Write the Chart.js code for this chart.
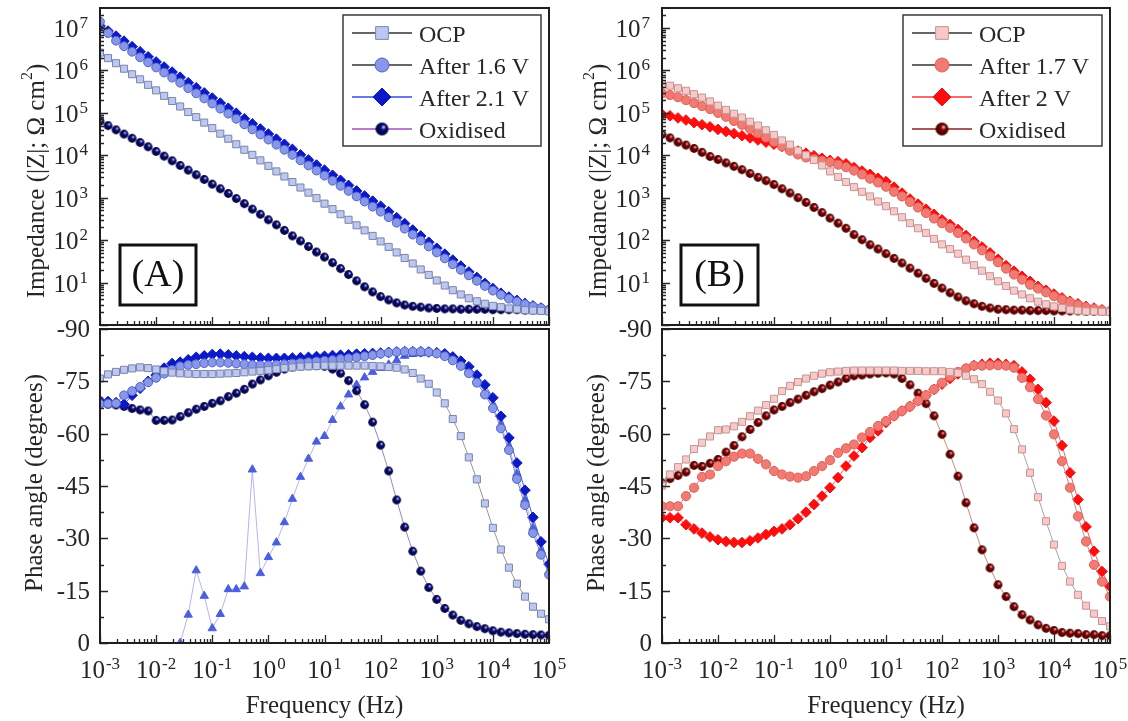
<!DOCTYPE html>
<html lang="en">
<head>
<meta charset="UTF-8">
<title>Bode plots</title>
<script src="https://cdn.jsdelivr.net/npm/chart.js"></script>
<style>
  body { margin: 0; background: #fff; }
  #wrap { position: relative; width: 1128px; height: 721px; }
  #wrap canvas { position: absolute; left: 0; top: 0; }
</style>
</head>
<body>
<div id="wrap">
  <canvas id="phA" width="1128" height="721"></canvas>
  <canvas id="phB" width="1128" height="721"></canvas>
  <canvas id="zA" width="1128" height="721"></canvas>
  <canvas id="zB" width="1128" height="721"></canvas>
</div>
<script>
// frequency sweep (Hz), 7 points per decade
const freq = [
  1e-3, 1.39e-3, 1.93e-3, 2.68e-3, 3.73e-3, 5.18e-3, 7.2e-3,
  1e-2, 1.39e-2, 1.93e-2, 2.68e-2, 3.73e-2, 5.18e-2, 7.2e-2,
  0.1, 0.139, 0.193, 0.268, 0.373, 0.518, 0.72,
  1, 1.39, 1.93, 2.68, 3.73, 5.18, 7.2,
  10, 13.9, 19.3, 26.8, 37.3, 51.8, 72,
  100, 139, 193, 268, 373, 518, 720,
  1e3, 1.39e3, 1.93e3, 2.68e3, 3.73e3, 5.18e3, 7.2e3,
  1e4, 1.39e4, 1.93e4, 2.68e4, 3.73e4, 5.18e4, 7.2e4,
  1e5
];

// log10 |Z| (Ω cm²), panel A
const logZ_A_ocp = [
  6.42, 6.29, 6.17, 6.04, 5.91, 5.79, 5.66,
  5.53, 5.40, 5.28, 5.15, 5.02, 4.90, 4.77,
  4.64, 4.51, 4.39, 4.26, 4.13, 4.01, 3.88,
  3.75, 3.62, 3.50, 3.37, 3.24, 3.12, 2.99,
  2.86, 2.73, 2.61, 2.48, 2.35, 2.23, 2.10,
  1.97, 1.84, 1.71, 1.58, 1.45, 1.31, 1.18,
  1.05, 0.93, 0.82, 0.72, 0.63, 0.56, 0.50,
  0.45, 0.42, 0.39, 0.37, 0.35, 0.34, 0.33,
  0.32
];
const logZ_A_16 = [
  7.15, 6.88, 6.70, 6.57, 6.44, 6.31, 6.19,
  6.07, 5.95, 5.83, 5.71, 5.58, 5.46, 5.34,
  5.22, 5.10, 4.98, 4.86, 4.73, 4.61, 4.49,
  4.37, 4.25, 4.13, 4.01, 3.88, 3.76, 3.64,
  3.52, 3.40, 3.28, 3.16, 3.03, 2.91, 2.79,
  2.67, 2.54, 2.41, 2.27, 2.13, 1.99, 1.85,
  1.71, 1.57, 1.43, 1.30, 1.17, 1.04, 0.92,
  0.81, 0.71, 0.62, 0.55, 0.49, 0.44, 0.40,
  0.36
];
const logZ_A_21 = [
  7.05, 6.93, 6.81, 6.69, 6.56, 6.44, 6.32,
  6.20, 6.08, 5.96, 5.84, 5.71, 5.59, 5.47,
  5.35, 5.23, 5.11, 4.99, 4.86, 4.74, 4.62,
  4.50, 4.38, 4.26, 4.14, 4.01, 3.89, 3.77,
  3.65, 3.53, 3.41, 3.29, 3.16, 3.04, 2.92,
  2.80, 2.67, 2.53, 2.39, 2.24, 2.10, 1.95,
  1.81, 1.67, 1.53, 1.39, 1.25, 1.12, 0.98,
  0.86, 0.75, 0.66, 0.58, 0.51, 0.45, 0.40,
  0.36
];
const logZ_A_ox = [
  4.80, 4.70, 4.60, 4.50, 4.40, 4.30, 4.20,
  4.09, 3.98, 3.87, 3.76, 3.65, 3.54, 3.43,
  3.32, 3.21, 3.10, 2.98, 2.86, 2.73, 2.61,
  2.48, 2.36, 2.23, 2.10, 1.98, 1.85, 1.72,
  1.60, 1.47, 1.33, 1.19, 1.04, 0.90, 0.78,
  0.67, 0.59, 0.52, 0.47, 0.44, 0.42, 0.40,
  0.39, 0.38, 0.38, 0.37, 0.37, 0.37, 0.37,
  0.36, 0.36, 0.36, 0.36, 0.35, 0.35, 0.35,
  0.35
];

// log10 |Z| (Ω cm²), panel B
const logZ_B_ocp = [
  5.68, 5.64, 5.58, 5.52, 5.44, 5.36, 5.27,
  5.17, 5.07, 4.98, 4.89, 4.79, 4.70, 4.59,
  4.48, 4.35, 4.25, 4.11, 4.00, 3.89, 3.76,
  3.62, 3.49, 3.37, 3.25, 3.14, 3.03, 2.91,
  2.80, 2.68, 2.54, 2.40, 2.28, 2.17, 2.03,
  1.90, 1.79, 1.68, 1.54, 1.41, 1.28, 1.15,
  1.03, 0.92, 0.81, 0.72, 0.63, 0.55, 0.49,
  0.44, 0.40, 0.36, 0.34, 0.32, 0.32, 0.31,
  0.31
];
const logZ_B_17 = [
  5.46, 5.42, 5.37, 5.30, 5.23, 5.16, 5.09,
  5.00, 4.91, 4.81, 4.72, 4.62, 4.52, 4.42,
  4.32, 4.21, 4.11, 4.02, 3.95, 3.91, 3.87,
  3.84, 3.78, 3.72, 3.64, 3.55, 3.45, 3.36,
  3.26, 3.14, 3.03, 2.90, 2.77, 2.64, 2.51,
  2.40, 2.29, 2.17, 2.04, 1.90, 1.76, 1.62,
  1.48, 1.33, 1.19, 1.07, 0.95, 0.86, 0.77,
  0.68, 0.60, 0.54, 0.47, 0.42, 0.38, 0.35,
  0.32
];
const logZ_B_2 = [
  4.97, 4.93, 4.88, 4.83, 4.77, 4.72, 4.67,
  4.61, 4.56, 4.51, 4.46, 4.41, 4.36, 4.31,
  4.26, 4.21, 4.16, 4.10, 4.05, 3.99, 3.93,
  3.88, 3.85, 3.80, 3.71, 3.63, 3.55, 3.46,
  3.38, 3.25, 3.11, 2.97, 2.85, 2.73, 2.61,
  2.48, 2.37, 2.25, 2.11, 1.97, 1.84, 1.70,
  1.55, 1.40, 1.27, 1.15, 1.03, 0.91, 0.82,
  0.73, 0.64, 0.56, 0.50, 0.44, 0.40, 0.36,
  0.33
];
const logZ_B_ox = [
  4.49, 4.41, 4.31, 4.24, 4.16, 4.07, 3.97,
  3.90, 3.82, 3.74, 3.66, 3.57, 3.48, 3.40,
  3.31, 3.21, 3.11, 3.00, 2.89, 2.77, 2.65,
  2.52, 2.40, 2.28, 2.13, 2.01, 1.89, 1.79,
  1.68, 1.57, 1.46, 1.34, 1.22, 1.10, 0.98,
  0.87, 0.76, 0.66, 0.57, 0.50, 0.44, 0.40,
  0.37, 0.36, 0.35, 0.35, 0.34, 0.34, 0.34,
  0.33, 0.33, 0.33, 0.33, 0.32, 0.32, 0.32,
  0.32
];

// phase angle (degrees), panel A
const phase_A_ocp = [
  -75.8, -77.0, -77.7, -78.3, -78.7, -79.0, -78.8,
  -78.4, -77.9, -77.5, -77.3, -77.2, -77.1, -77.1,
  -77.1, -77.2, -77.3, -77.4, -77.6, -77.8, -78.0,
  -78.2, -78.5, -78.8, -79.0, -79.2, -79.3, -79.4,
  -79.5, -79.5, -79.5, -79.5, -79.5, -79.5, -79.4,
  -79.3, -79.1, -78.9, -78.4, -77.4, -75.8, -74.3,
  -71.8, -68.7, -64.2, -59.3, -53.2, -46.9, -40.0,
  -33.0, -26.8, -21.6, -17.0, -13.3, -10.4, -8.4,
  -6.8
];
const phase_A_16 = [
  -68.5, -68.6, -68.7, -71.0, -72.2, -73.4, -74.7,
  -76.0, -77.2, -78.3, -79.3, -79.7, -79.9, -80.2,
  -80.4, -80.4, -80.3, -80.1, -79.9, -79.7, -79.6,
  -79.6, -79.7, -79.9, -80.1, -80.3, -80.5, -80.7,
  -80.9, -81.1, -81.4, -81.6, -81.9, -82.2, -82.5,
  -82.9, -83.2, -83.4, -83.5, -83.5, -83.5, -83.4,
  -83.0, -82.2, -81.0, -79.4, -77.3, -74.6, -71.2,
  -67.3, -61.5, -55.3, -47.0, -39.5, -31.5, -25.3,
  -19.6
];
const phase_A_21 = [
  -69.0, -69.2, -68.9, -68.4, -71.0, -73.0, -75.0,
  -76.8, -78.8, -80.1, -80.5, -81.2, -81.9, -82.3,
  -82.7, -82.8, -82.6, -82.3, -82.1, -81.9, -81.7,
  -81.6, -81.6, -81.6, -81.7, -81.8, -81.9, -82.1,
  -82.2, -82.4, -82.5, -82.6, -82.8, -82.9, -83.0,
  -83.1, -83.3, -83.4, -83.5, -83.5, -83.5, -83.4,
  -83.2, -82.9, -82.0, -80.8, -79.2, -76.8, -74.0,
  -70.3, -65.0, -58.8, -51.6, -43.8, -36.0, -29.0,
  -22.6
];
const phase_A_ox = [
  -69.4, -68.4, -68.2, -67.8, -67.2, -66.8, -66.5,
  -63.8, -63.8, -63.9, -64.9, -66.0, -67.0, -67.8,
  -68.7, -69.4, -70.6, -71.6, -72.7, -74.2, -75.4,
  -76.6, -77.6, -78.5, -79.1, -79.4, -79.5, -79.5,
  -79.3, -78.5, -77.3, -75.2, -72.3, -68.3, -63.3,
  -56.7, -49.3, -41.0, -33.2, -26.3, -20.6, -15.9,
  -12.5, -9.9, -8.0, -6.5, -5.5, -4.7, -4.1,
  -3.5, -3.1, -2.9, -2.7, -2.5, -2.4, -2.3,
  -2.2
];
// extra run without a legend entry (triangles)
const phase_A_tri = [
  null, null, null, null, null, null, null,
  null, null, null, 0, -8.1, -20.8, -13.5,
  -4.2, -8.3, -15.4, -15.4, -16.2, -49.7, -20.0,
  -24.6, -28.8, -34.6, -41.3, -47.6, -52.8, -57.7,
  -59.3, -63.9, -67.8, -71.2, -74.0, -76.1, -77.7,
  -78.8, -79.8, -81.0, -82.3, -82.8, -83.0, -83.1,
  -83.0, -82.5, -81.5, -80.2, -78.5, -75.5, -71.8,
  -68.0, -62.5, -56.3, -48.5, -41.0, -33.0, -26.5,
  -20.5
];

// phase angle (degrees), panel B
const phase_B_ocp = [
  -45.1, -48.3, -50.4, -52.6, -55.6, -57.4, -59.2,
  -61.0, -61.2, -62.1, -63.4, -65.0, -66.6, -68.2,
  -70.0, -72.2, -73.7, -74.8, -75.8, -76.6, -77.2,
  -77.6, -77.8, -78.0, -78.1, -78.1, -78.1, -78.1,
  -78.1, -78.1, -78.0, -78.0, -78.0, -77.9, -77.9,
  -77.9, -77.7, -77.4, -76.6, -75.6, -74.2, -72.0,
  -69.5, -65.8, -61.3, -55.5, -48.8, -41.8, -34.9,
  -28.2, -22.1, -17.6, -13.8, -10.7, -8.4, -6.3,
  -4.8
];
const phase_B_17 = [
  -39.2, -39.2, -39.2, -42.1, -44.5, -47.6, -48.3,
  -50.7, -52.1, -53.4, -54.3, -54.3, -52.8, -51.2,
  -49.3, -48.3, -47.7, -47.4, -47.8, -49.3, -50.7,
  -52.4, -54.5, -55.8, -56.9, -58.9, -60.5, -62.2,
  -63.6, -65.1, -66.5, -67.8, -69.4, -71.0, -72.7,
  -74.6, -76.4, -77.7, -78.7, -79.5, -79.5, -79.6,
  -79.6, -79.5, -78.9, -76.0, -73.3, -69.9, -65.2,
  -59.8, -52.1, -44.5, -36.3, -29.1, -22.4, -17.6,
  -13.3
];
const phase_B_2 = [
  -35.9, -35.9, -35.9, -33.9, -32.7, -31.5, -30.4,
  -29.6, -29.1, -28.8, -28.8, -29.3, -30.1, -31.1,
  -32.0, -32.7, -33.9, -35.6, -37.5, -39.7, -42.1,
  -44.5, -47.4, -50.7, -53.6, -56.0, -58.9, -60.8,
  -63.2, -65.1, -66.5, -67.8, -69.4, -71.0, -72.7,
  -74.2, -75.8, -77.1, -78.5, -79.5, -79.9, -80.2,
  -80.2, -79.9, -79.5, -77.7, -75.6, -72.7, -68.9,
  -63.6, -56.6, -48.8, -41.1, -33.3, -26.3, -20.5,
  -16.2
];
const phase_B_ox = [
  -45.9, -47.1, -48.0, -49.0, -50.9, -50.6, -51.5,
  -52.6, -54.7, -56.6, -59.1, -61.2, -63.2, -65.1,
  -66.8, -67.8, -68.9, -69.9, -71.0, -72.0, -72.9,
  -73.9, -74.8, -75.8, -76.6, -76.8, -77.1, -77.3,
  -77.4, -77.1, -75.8, -74.0, -71.6, -68.6, -65.1,
  -59.8, -54.1, -47.8, -40.2, -33.0, -26.7, -21.5,
  -16.7, -13.3, -10.4, -8.1, -6.6, -5.2, -4.2,
  -3.6, -3.0, -2.8, -2.7, -2.4, -2.4, -2.1,
  -2.1
];

// axis ticks and legend text
const freqExps = [-3, -2, -1, 0, 1, 2, 3, 4, 5];
const zExps = [1, 2, 3, 4, 5, 6, 7];
const phaseTicks = [0, -15, -30, -45, -60, -75, -90];
const labelsA = ['OCP', 'After 1.6 V', 'After 2.1 V', 'Oxidised'];
const labelsB = ['OCP', 'After 1.7 V', 'After 2 V', 'Oxidised'];

const SERIF = '"Liberation Serif", "Times New Roman", serif';
const INK = '#262626';

// shaded ball marker
function sphere(core, rim, glint, r) {
  const c = document.createElement('canvas');
  const s = Math.ceil(2 * r + 2);
  c.width = c.height = s;
  const g = c.getContext('2d');
  const m = s / 2;
  const grad = g.createRadialGradient(m + r * 0.3, m - r * 0.35, r * 0.05, m, m, r);
  grad.addColorStop(0, glint);
  grad.addColorStop(0.35, core);
  grad.addColorStop(1, rim);
  g.fillStyle = grad;
  g.beginPath();
  g.arc(m, m, r, 0, Math.PI * 2);
  g.fill();
  return c;
}

const stylesA = [
  { style: 'rect', r: 5, fill: '#bdc7f3', edge: '#7b84a8', line: '#8d8d8d', key: '#333' },
  { style: 'circle', r: 4.4, fill: '#8797ea', edge: '#5363c6', line: '#6a72b2', key: '#333' },
  { style: 'rectRot', r: 5.3, fill: '#0b19c9', edge: '#0b19c9', line: '#3446e0', key: '#3a48e0' },
  { style: 'ball', r: 4.4, ball: ['#0a0a78', '#020236', '#d8dcff'], line: '#8a7bb8', key: '#a050b8' }
];
const stylesB = [
  { style: 'rect', r: 5, fill: '#fbc7c7', edge: '#bf9898', line: '#9b9b9b', key: '#333' },
  { style: 'circle', r: 4.6, fill: '#f37a72', edge: '#dc625a', line: '#b88080', key: '#333' },
  { style: 'rectRot', r: 5.3, fill: '#ff0c0c', edge: '#ff0c0c', line: '#f25050', key: '#f03a3a' },
  { style: 'ball', r: 4.4, ball: ['#860000', '#3a0000', '#ffc8c8'], line: '#c87878', key: '#8c2020' }
];
const triStyle = { style: 'triangle', r: 4.8, fill: '#4a5ee2', edge: '#4a5ee2', line: '#a6aef2' };

function pointStyleOf(st, r) {
  return st.style === 'ball' ? sphere(st.ball[0], st.ball[1], st.ball[2], r) : st.style;
}

function makeSet(label, ys, st, toValue) {
  return {
    label,
    data: freq.map((f, i) => ({ x: f, y: ys[i] === null ? null : toValue(ys[i]) })),
    borderColor: st.line,
    borderWidth: 0.9,
    pointStyle: pointStyleOf(st, st.r),
    pointRadius: st.r,
    pointBackgroundColor: st.fill || st.line,
    pointBorderColor: st.edge || st.line,
    pointBorderWidth: 1,
    tension: 0,
    fill: false,
    spanGaps: false
  };
}

const pow10 = v => Math.pow(10, v);
const same = v => v;

// text helpers
function stretchText(ctx, text, x, y, font) {
  ctx.font = font;
  ctx.fillText(text, x, y);
}

function drawPow(ctx, exp, x, y, align) {
  const main = '25px ' + SERIF, sup = '17px ' + SERIF;
  ctx.font = main;
  const wb = ctx.measureText('10').width;
  ctx.font = sup;
  const ws = ctx.measureText(String(exp)).width;
  const total = wb + 1 + ws;
  const x0 = align === 'right' ? x - total : x - total / 2;
  ctx.textAlign = 'left';
  ctx.textBaseline = 'alphabetic';
  ctx.fillStyle = INK;
  stretchText(ctx, '10', x0, y, main);
  stretchText(ctx, String(exp), x0 + wb + 1, y - 9, sup);
}

// parts: [text, isSuperscript]
function drawRich(ctx, parts, cx, cy, rotate) {
  const main = '25px ' + SERIF, sup = '16px ' + SERIF;
  let total = 0;
  const widths = parts.map(([t, s]) => {
    ctx.font = s ? sup : main;
    const w = ctx.measureText(t).width;
    total += w;
    return w;
  });
  ctx.save();
  ctx.translate(cx, cy);
  if (rotate) ctx.rotate(-Math.PI / 2);
  ctx.fillStyle = INK;
  ctx.textAlign = 'left';
  ctx.textBaseline = 'middle';
  let x = -total / 2;
  parts.forEach(([t, s], i) => {
    ctx.font = s ? sup : main;
    ctx.fillText(t, x, s ? -9 : 0);
    x += widths[i];
  });
  ctx.restore();
}

function drawKeyMarker(ctx, st, x, y, r) {
  if (st.style === 'ball') {
    const img = sphere(st.ball[0], st.ball[1], st.ball[2], r);
    ctx.drawImage(img, x - img.width / 2, y - img.height / 2);
    return;
  }
  ctx.fillStyle = st.fill;
  ctx.strokeStyle = st.edge;
  ctx.lineWidth = 1;
  ctx.beginPath();
  if (st.style === 'rect') {
    const h = r * Math.SQRT1_2;
    ctx.rect(x - h, y - h, 2 * h, 2 * h);
  } else if (st.style === 'rectRot') {
    ctx.moveTo(x, y - r); ctx.lineTo(x + r, y); ctx.lineTo(x, y + r); ctx.lineTo(x - r, y);
    ctx.closePath();
  } else {
    ctx.arc(x, y, r, 0, Math.PI * 2);
  }
  ctx.fill();
  ctx.stroke();
}

// frame, inward ticks, labels, titles and key for one panel
function panelDecor(cfg) {
  return {
    id: 'decor',
    afterDraw(chart) {
      const { ctx, chartArea: a, scales: { x, y } } = chart;
      ctx.save();

      // ticks
      ctx.strokeStyle = INK;
      ctx.lineWidth = 1.3;
      ctx.beginPath();
      freqExps.forEach((e, k) => {
        for (let m = 1; m <= 9; m++) {
          if (m > 1 && k === freqExps.length - 1) break;
          const px = Math.round(x.getPixelForValue(m * Math.pow(10, e))) + 0.5;
          const len = m === 1 ? 8 : 4;
          ctx.moveTo(px, a.bottom);
          ctx.lineTo(px, a.bottom - len);
        }
      });
      if (cfg.kind === 'z') {
        for (let e = 0; e <= 7; e++) {
          for (let m = 1; m <= 9; m++) {
            const v = m * Math.pow(10, e);
            if (v > y.max) break;
            const py = Math.round(y.getPixelForValue(v)) + 0.5;
            ctx.moveTo(a.left, py);
            ctx.lineTo(a.left + (m === 1 ? 8 : 4), py);
          }
        }
      } else {
        for (let v = 0; v >= -90; v -= 7.5) {
          const py = Math.round(y.getPixelForValue(v)) + 0.5;
          ctx.moveTo(a.left, py);
          ctx.lineTo(a.left + (v % 15 === 0 ? 8 : 4), py);
        }
      }
      ctx.stroke();

      // frame
      ctx.lineWidth = 2;
      ctx.strokeStyle = '#1e1e1e';
      ctx.strokeRect(a.left, a.top, a.right - a.left, a.bottom - a.top);

      // tick labels and titles
      ctx.fillStyle = INK;
      if (cfg.kind === 'z') {
        zExps.forEach(e => drawPow(ctx, e, a.left - 12, y.getPixelForValue(Math.pow(10, e)) + 9, 'right'));
        drawRich(ctx, [['Impedance (|Z|; \u03A9 cm', false], ['2', true], [')', false]], a.left - 63, 181, true);

        // key box
        const b = cfg.keyBox;
        ctx.fillStyle = '#fff';
        ctx.fillRect(b.x, b.y, b.w, b.h);
        ctx.strokeStyle = '#3a3a3a';
        ctx.lineWidth = 1.5;
        ctx.strokeRect(b.x, b.y, b.w, b.h);
        chart.data.datasets.slice(0, 4).forEach((ds, i) => {
          const st = cfg.styles[i];
          const yy = b.y + 18 + i * 32;
          ctx.strokeStyle = st.key;
          ctx.lineWidth = 1.3;
          ctx.beginPath();
          ctx.moveTo(b.x + 9, yy);
          ctx.lineTo(b.x + 69, yy);
          ctx.stroke();
          const kr = st.style === 'rect' ? 9 : st.style === 'rectRot' ? 9 : st.style === 'ball' ? 6.5 : 7;
          drawKeyMarker(ctx, st, b.x + 39, yy, kr);
          ctx.fillStyle = INK;
          ctx.textAlign = 'left';
          ctx.textBaseline = 'alphabetic';
          ctx.font = '24px ' + SERIF;
          ctx.fillText(ds.label, b.x + 76, yy + 9);
        });

        // panel tag
        const t = cfg.tagBox;
        ctx.strokeStyle = '#111';
        ctx.lineWidth = 3;
        ctx.strokeRect(t.x, t.y, t.w, t.h);
        ctx.fillStyle = '#111';
        ctx.textAlign = 'center';
        ctx.textBaseline = 'middle';
        ctx.font = '38px ' + SERIF;
        ctx.fillText(cfg.tag, t.x + t.w / 2, t.y + t.h / 2 + 1);
      } else {
        ctx.textAlign = 'right';
        ctx.textBaseline = 'alphabetic';
        ctx.font = '25px ' + SERIF;
        phaseTicks.forEach(v => {
          ctx.fillText(String(v), a.left - 10, y.getPixelForValue(v) + 8);
        });
        freqExps.forEach(e => drawPow(ctx, e, x.getPixelForValue(Math.pow(10, e)), a.bottom + 35, 'center'));
        drawRich(ctx, [['Phase angle (degrees)', false]], a.left - 65, 483, true);
        drawRich(ctx, [['Frequency (Hz)', false]], (a.left + a.right) / 2, 706, false);
      }
      ctx.restore();
    }
  };
}

function makePanel(canvasId, cfg, datasets) {
  const isZ = cfg.kind === 'z';
  return new Chart(document.getElementById(canvasId), {
    type: 'line',
    data: { datasets },
    options: {
      responsive: false,
      animation: false,
      events: [],
      layout: {
        padding: {
          left: cfg.left,
          right: 1128 - cfg.right,
          top: isZ ? 8 : 329,
          bottom: isZ ? 721 - 325 : 721 - 643
        }
      },
      scales: {
        x: { type: 'logarithmic', min: 1e-3, max: 1e5, display: false },
        y: isZ
          ? { type: 'logarithmic', min: 1, max: 2.96e7, display: false }
          : { type: 'linear', min: -90, max: 0, reverse: true, display: false }
      },
      plugins: { legend: { display: false }, tooltip: { enabled: false } }
    },
    plugins: [panelDecor(cfg)]
  });
}

const cfgA = { left: 100, right: 549, styles: stylesA, tag: '(A)',
  keyBox: { x: 343, y: 15, w: 198, h: 131 }, tagBox: { x: 120, y: 245, w: 76, h: 60 } };
const cfgB = { left: 662, right: 1110, styles: stylesB, tag: '(B)',
  keyBox: { x: 903, y: 15, w: 199, h: 131 }, tagBox: { x: 681, y: 245, w: 77, h: 60 } };

makePanel('zA', Object.assign({ kind: 'z' }, cfgA), [
  makeSet(labelsA[0], logZ_A_ocp, stylesA[0], pow10),
  makeSet(labelsA[1], logZ_A_16, stylesA[1], pow10),
  makeSet(labelsA[2], logZ_A_21, stylesA[2], pow10),
  makeSet(labelsA[3], logZ_A_ox, stylesA[3], pow10)
]);
makePanel('phA', Object.assign({ kind: 'phase' }, cfgA), [
  makeSet(labelsA[0], phase_A_ocp, stylesA[0], same),
  makeSet(labelsA[1], phase_A_16, stylesA[1], same),
  makeSet(labelsA[2], phase_A_21, stylesA[2], same),
  makeSet(labelsA[3], phase_A_ox, stylesA[3], same),
  makeSet('', phase_A_tri, triStyle, same)
]);
makePanel('zB', Object.assign({ kind: 'z' }, cfgB), [
  makeSet(labelsB[0], logZ_B_ocp, stylesB[0], pow10),
  makeSet(labelsB[1], logZ_B_17, stylesB[1], pow10),
  makeSet(labelsB[2], logZ_B_2, stylesB[2], pow10),
  makeSet(labelsB[3], logZ_B_ox, stylesB[3], pow10)
]);
makePanel('phB', Object.assign({ kind: 'phase' }, cfgB), [
  makeSet(labelsB[0], phase_B_ocp, stylesB[0], same),
  makeSet(labelsB[1], phase_B_17, stylesB[1], same),
  makeSet(labelsB[2], phase_B_2, stylesB[2], same),
  makeSet(labelsB[3], phase_B_ox, stylesB[3], same)
]);
</script>
</body>
</html>
